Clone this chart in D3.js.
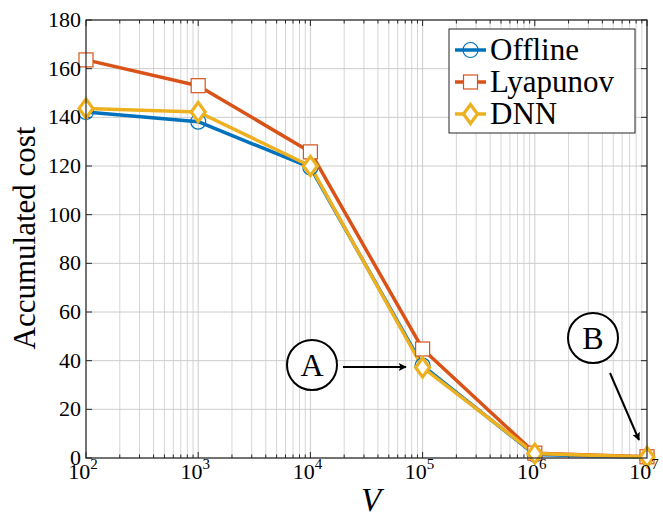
<!DOCTYPE html>
<html><head><meta charset="utf-8">
<script src="https://cdn.jsdelivr.net/npm/d3@7"></script>
<style>body{margin:0;background:#fff}svg{display:block}</style>
</head><body><svg id="c" width="663" height="518" font-family="'Liberation Serif', 'Times New Roman', 'DejaVu Serif', serif"></svg>
<script>
const V = [1e2, 1e3, 1e4, 1e5, 1e6, 1e7];
const offline = [142.2, 138.2, 119.4, 38.0, 1.4, 0.3];
const lyapunov = [163.6, 153.0, 125.8, 44.8, 2.0, 0.5];
const dnn = [143.6, 142.2, 120.0, 37.2, 1.8, 0.4];
const seriesNames = ["Offline", "Lyapunov", "DNN"];
const seriesColors = ["#0072BD", "#D95319", "#EDB120"];
const yTicks = [0, 20, 40, 60, 80, 100, 120, 140, 160, 180];
const xExps = [2, 3, 4, 5, 6, 7];

const svg = d3.select("#c");
const L = 86, R = 647, T = 20, B = 458;
const x = d3.scaleLog().domain([1e2, 1e7]).range([L, R]);
const y = d3.scaleLinear().domain([0, 180]).range([B, T]);

const minor = [];
for (let e = 2; e < 7; e++) for (let k = 2; k <= 9; k++) minor.push(k * Math.pow(10, e));
const major = xExps.map(e => Math.pow(10, e));

const g = svg.append("g");
g.selectAll(".vm").data(minor).enter().append("line")
  .attr("x1", d => x(d)).attr("x2", d => x(d)).attr("y1", T).attr("y2", B)
  .attr("stroke", "#d6d6d6").attr("stroke-width", 1);
g.selectAll(".vM").data(major).enter().append("line")
  .attr("x1", d => x(d)).attr("x2", d => x(d)).attr("y1", T).attr("y2", B)
  .attr("stroke", "#cccccc").attr("stroke-width", 1);
g.selectAll(".h").data(yTicks).enter().append("line")
  .attr("x1", L).attr("x2", R).attr("y1", d => y(d)).attr("y2", d => y(d))
  .attr("stroke", "#cccccc").attr("stroke-width", 1);

const tk = svg.append("g").attr("stroke", "#262626").attr("stroke-width", 1);
major.forEach(d => {
  tk.append("line").attr("x1", x(d)).attr("x2", x(d)).attr("y1", B).attr("y2", B - 6);
  tk.append("line").attr("x1", x(d)).attr("x2", x(d)).attr("y1", T).attr("y2", T + 6);
});
minor.forEach(d => {
  tk.append("line").attr("x1", x(d)).attr("x2", x(d)).attr("y1", B).attr("y2", B - 3.5);
  tk.append("line").attr("x1", x(d)).attr("x2", x(d)).attr("y1", T).attr("y2", T + 3.5);
});
yTicks.forEach(d => {
  tk.append("line").attr("x1", L).attr("x2", L + 6).attr("y1", y(d)).attr("y2", y(d));
  tk.append("line").attr("x1", R).attr("x2", R - 6).attr("y1", y(d)).attr("y2", y(d));
});

const data = [offline, lyapunov, dnn];
const line = d3.line().x((d, i) => x(V[i])).y(d => y(d));
data.forEach((s, si) => {
  svg.append("path").datum(s).attr("d", line).attr("fill", "none")
    .attr("stroke", seriesColors[si]).attr("stroke-width", 3.5).attr("stroke-linejoin", "round");
});
function marker(gg, si, cx, cy) {
  if (si === 0) {
    gg.append("circle").attr("cx", cx).attr("cy", cy).attr("r", 7.5)
      .attr("fill", "none").attr("stroke", seriesColors[0]).attr("stroke-width", 1.2);
  } else if (si === 1) {
    gg.append("rect").attr("x", cx - 7).attr("y", cy - 7).attr("width", 14).attr("height", 14)
      .attr("fill", "#fff").attr("stroke", seriesColors[1]).attr("stroke-width", 1.2);
  } else {
    gg.append("path").attr("d", `M${cx},${cy - 9.5}L${cx + 7},${cy}L${cx},${cy + 9.5}L${cx - 7},${cy}Z`)
      .attr("fill", "#fff").attr("stroke", seriesColors[2]).attr("stroke-width", 3.2);
  }
}
data.forEach((s, si) => {
  const gg = svg.append("g");
  s.forEach((d, i) => marker(gg, si, x(V[i]), y(d)));
});

svg.append("rect").attr("x", L).attr("y", T).attr("width", R - L).attr("height", B - T)
  .attr("fill", "none").attr("stroke", "#262626").attr("stroke-width", 1.2);

yTicks.forEach(d => {
  svg.append("text").attr("x", L - 5).attr("y", y(d) + 7).attr("text-anchor", "end")
    .attr("font-size", 22).text(d);
});
xExps.forEach(e => {
  const t = svg.append("text").attr("x", x(Math.pow(10, e)) - 3).attr("y", 479).attr("text-anchor", "middle")
    .attr("font-size", 22);
  t.append("tspan").text("10");
  t.append("tspan").attr("dy", -10).attr("font-size", 15).text(e);
});
svg.append("text").attr("x", 371).attr("y", 511).attr("text-anchor", "middle")
  .attr("font-size", 33).attr("font-style", "italic").text("V");
svg.append("text").attr("transform", "translate(35,238) rotate(-90)").attr("text-anchor", "middle")
  .attr("font-size", 31).text("Accumulated cost");

const lg = svg.append("g");
lg.append("rect").attr("x", 449).attr("y", 29).attr("width", 186).attr("height", 104)
  .attr("fill", "#fff").attr("stroke", "#262626").attr("stroke-width", 1);
seriesNames.forEach((n, i) => {
  const cy = 50 + i * 32;
  lg.append("line").attr("x1", 455).attr("x2", 486).attr("y1", cy).attr("y2", cy)
    .attr("stroke", seriesColors[i]).attr("stroke-width", 3.5);
  marker(lg, i, 470.5, cy);
  lg.append("text").attr("x", 490).attr("y", cy + 9.5).attr("font-size", 31).text(n);
});

svg.append("defs").append("marker").attr("id", "ah").attr("viewBox", "0 0 10 10")
  .attr("refX", 9).attr("refY", 5).attr("markerWidth", 9).attr("markerHeight", 8)
  .attr("markerUnits", "userSpaceOnUse").attr("orient", "auto")
  .append("path").attr("d", "M0,0L10,5L0,10L2,5Z").attr("fill", "#000");
[["A", 312, 365], ["B", 593, 338]].forEach(([t, cx, cy]) => {
  svg.append("circle").attr("cx", cx).attr("cy", cy).attr("r", 25).attr("fill", "#fff")
    .attr("stroke", "#000").attr("stroke-width", 2);
  svg.append("text").attr("x", cx).attr("y", cy + 11).attr("text-anchor", "middle")
    .attr("font-size", 32).text(t);
});
svg.append("line").attr("x1", 343).attr("y1", 367).attr("x2", 406).attr("y2", 367)
  .attr("stroke", "#000").attr("stroke-width", 2).attr("marker-end", "url(#ah)");
svg.append("line").attr("x1", 610).attr("y1", 373).attr("x2", 639).attr("y2", 440)
  .attr("stroke", "#000").attr("stroke-width", 2).attr("marker-end", "url(#ah)");
</script></body></html>
